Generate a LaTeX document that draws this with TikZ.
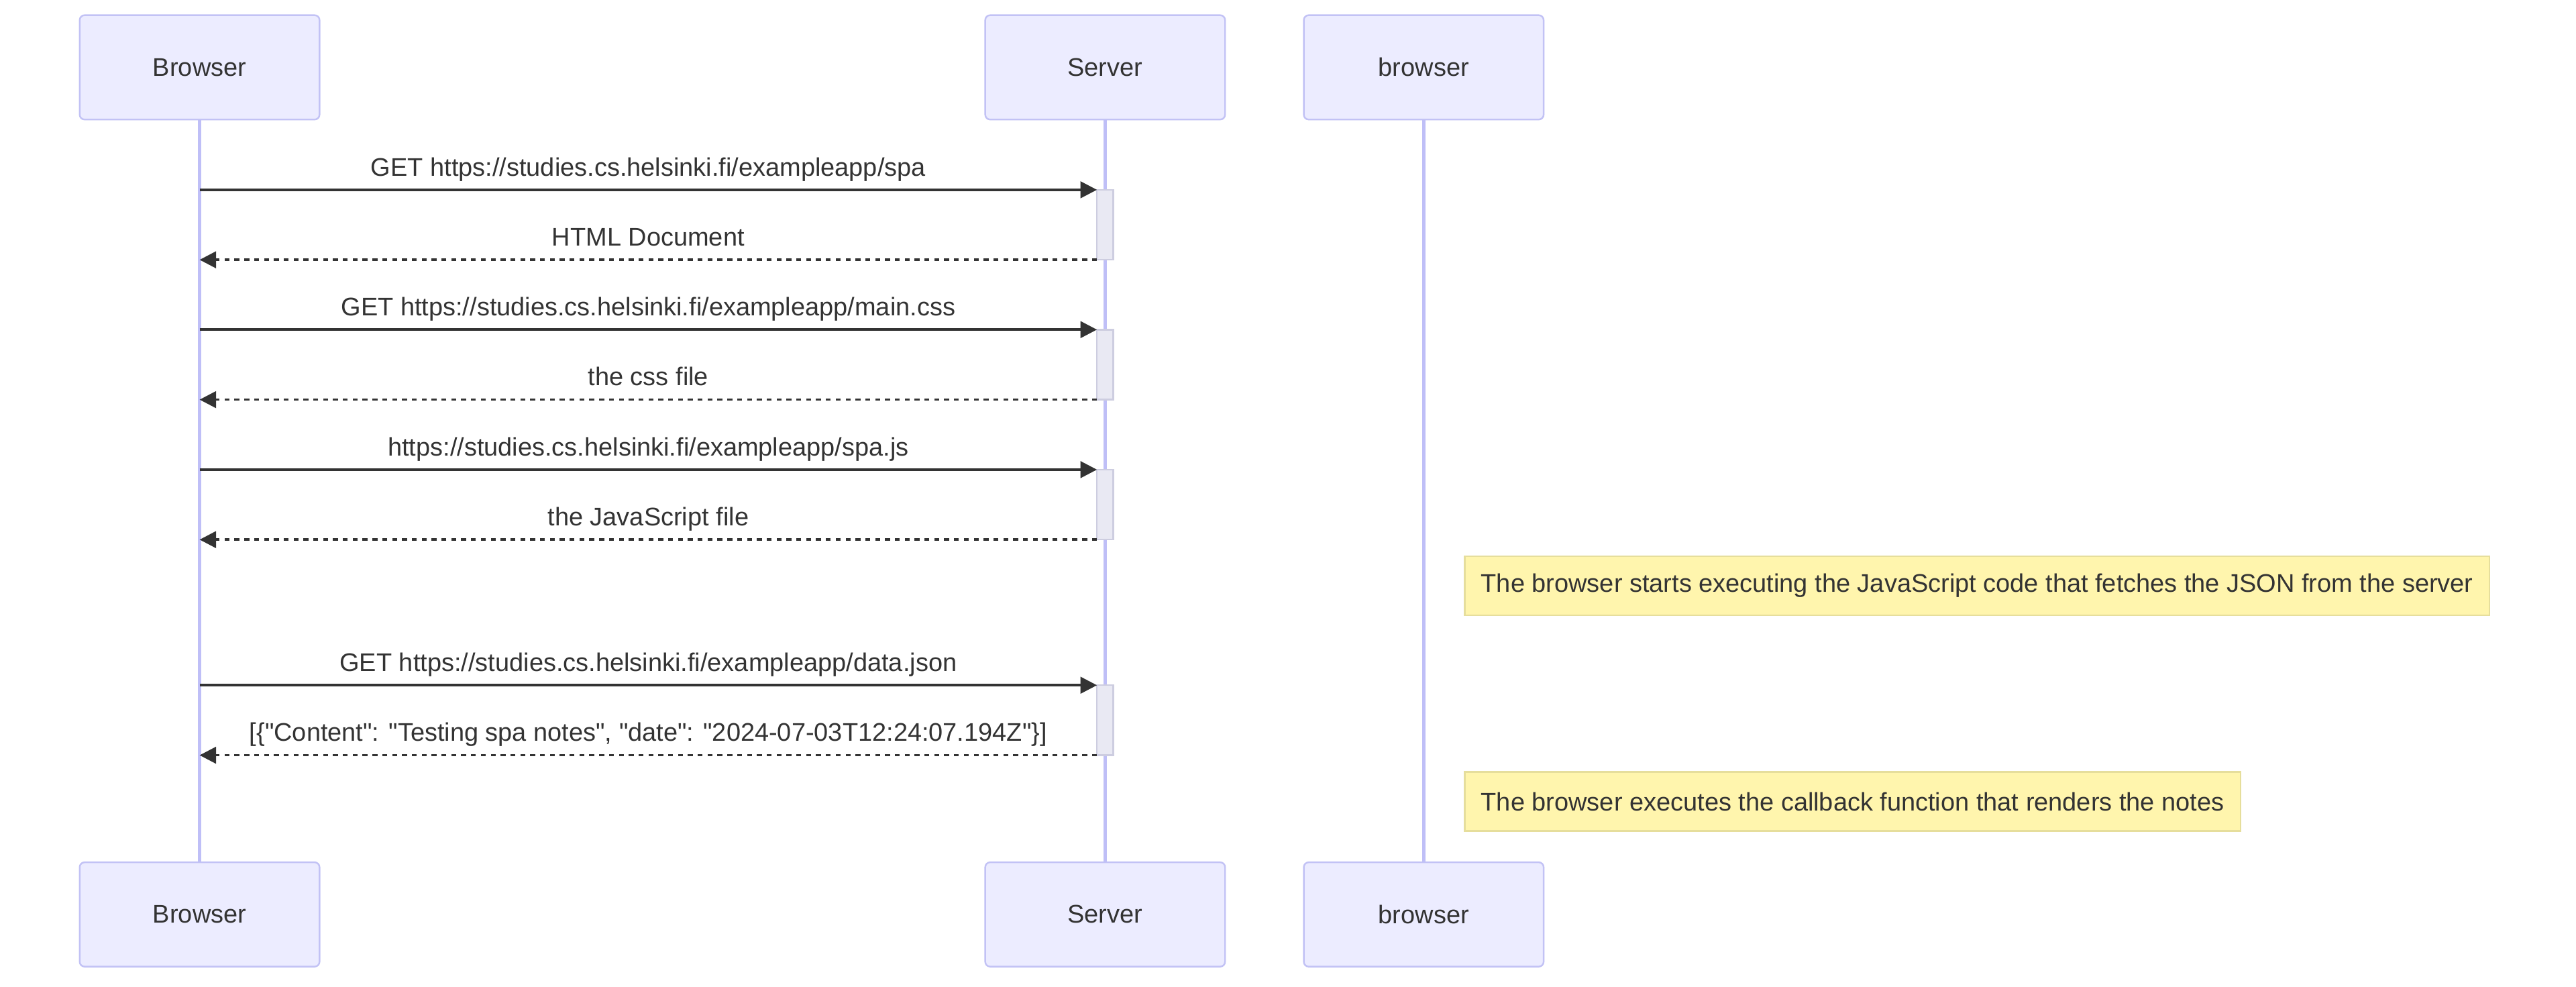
\documentclass[tikz,border=0pt]{standalone}
\usepackage{fontspec}
\setmainfont{Liberation Sans}[Ligatures=TeXOff]
\usetikzlibrary{arrows.meta}
\definecolor{actfill}{HTML}{ECECFF}
\definecolor{actline}{HTML}{C2C2F5}
\definecolor{lifecol}{HTML}{BFBFF7}
\definecolor{inkcol}{HTML}{333333}
\definecolor{barfill}{HTML}{E9E9F3}
\definecolor{barline}{HTML}{CDCDE0}
\definecolor{notefill}{HTML}{FFF5AD}
\definecolor{noteline}{HTML}{E6DE9C}
\newcommand{\msgfont}{\fontsize{15.5}{18.5}\selectfont}

\tikzset{
  actor/.style={draw=actline, fill=actfill, line width=1pt, rounded corners=3pt,
    minimum width=146pt, minimum height=63.5pt, text=inkcol, font=\msgfont},
  lifeline/.style={draw=lifecol, line width=2pt},
  actbar/.style={draw=barline, fill=barfill, line width=1pt, inner sep=0pt, outer sep=0pt,
    minimum width=10pt, minimum height=42.6pt, anchor=north},
  req/.style={draw=inkcol, line width=1.5pt, -{Triangle[length=10pt,width=10pt]}},
  resp/.style={req, dash pattern=on 3pt off 3pt},
  msg/.style={midway, anchor=base, yshift=8.5pt, text=inkcol, font=\msgfont, inner sep=0pt},
  note/.style={draw=noteline, fill=notefill, line width=1pt, inner xsep=10pt,
    minimum height=36pt, anchor=west, text=inkcol, font=\msgfont}
}

\begin{document}
\begin{tikzpicture}[x=1pt, y=-1pt]
\useasboundingbox (0,0) rectangle (1568,600.3);

% participants, top and bottom, with their lifelines
\foreach \n/\x/\t in {br/121.5/Browser, sv/672.7/Server, bw/866.6/browser} {
  \node[actor] (\n top) at (\x,41) {\t};
  \node[actor] (\n bot) at (\x,556.5) {\t};
  \draw[lifeline] (\n top) -- (\n bot);
}

% activation bars on the server
\foreach \i/\y in {1/115.5, 2/200.6, 3/285.8, 4/417} 
  \node[actbar] (act\i) at (672.7,\y) {};

\draw[req] (brtop |- act1.north west) -- (act1.north west)
  node[msg] {GET https://studies.cs.helsinki.fi/exampleapp/spa};
\draw[resp] (act1.south west) -- (brtop |- act1.south west)
  node[msg] {HTML Document};

\draw[req] (brtop |- act2.north west) -- (act2.north west)
  node[msg] {GET https://studies.cs.helsinki.fi/exampleapp/main.css};
\draw[resp] (act2.south west) -- (brtop |- act2.south west)
  node[msg] {the css file};

\draw[req] (brtop |- act3.north west) -- (act3.north west)
  node[msg] {https://studies.cs.helsinki.fi/exampleapp/spa.js};
\draw[resp] (act3.south west) -- (brtop |- act3.south west)
  node[msg] {the JavaScript file};

\node[note] (note1) at (891,356.5)
  {The browser starts executing the JavaScript code that fetches the JSON from the server};

\draw[req] (brtop |- act4.north west) -- (act4.north west)
  node[msg] {GET https://studies.cs.helsinki.fi/exampleapp/data.json};
\draw[resp] (act4.south west) -- (brtop |- act4.south west)
  node[msg] {[\{"Content": "Testing spa notes", "date": "2024-07-03T12:24:07.194Z"\}]};

\node[note] (note2) at (891,487.8)
  {The browser executes the callback function that renders the notes};
\end{tikzpicture}
\end{document}
